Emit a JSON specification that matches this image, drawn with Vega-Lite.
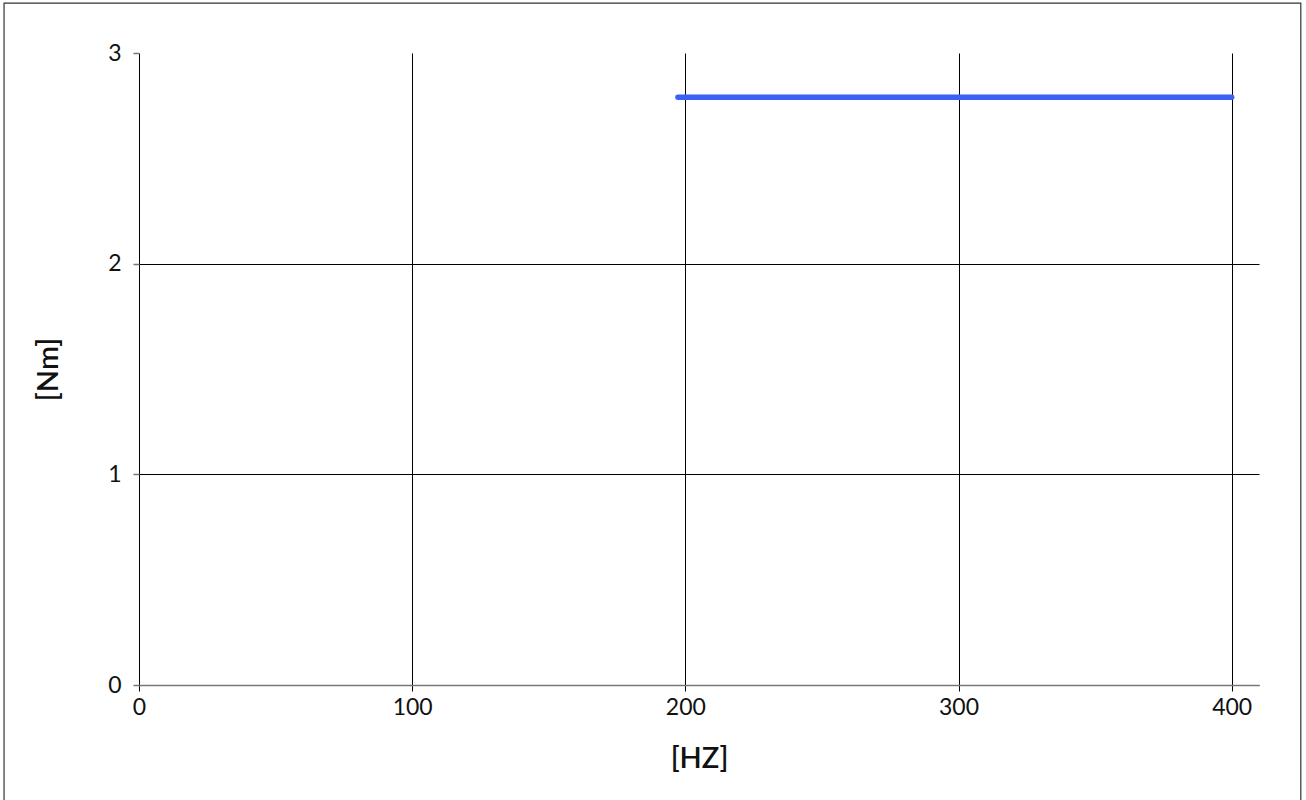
{
  "$schema": "https://vega.github.io/schema/vega-lite/v6.json",
  "autosize": {"type": "none"},
  "width": 1120,
  "height": 632,
  "padding": {"left": 139, "top": 53, "right": 47, "bottom": 115},
  "background": "white",
  "config": {
    "view": {"stroke": null},
    "font": "Lato",
    "axis": {"labelFont": "Lato", "titleFont": "Lato", "labelColor": "#111", "titleColor": "#111"}
  },
  "data": {"values": [
    {"hz": 197.3, "nm": 2.79},
    {"hz": 400, "nm": 2.79}
  ]},
  "layer": [
    {
      "mark": {"type": "rect", "fill": null, "stroke": "#333", "strokeWidth": 1.2, "clip": false},
      "data": {"values": [{"k": 1}]},
      "encoding": {
        "x": {"datum": -49.4, "type": "quantitative", "scale": {"domain": [0, 410]}},
        "x2": {"datum": 425.3},
        "y": {"datum": 3.237, "type": "quantitative", "scale": {"domain": [0, 3]}},
        "y2": {"datum": -0.6}
      }
    },
    {
      "mark": {"type": "line", "color": "#3a62f2", "strokeWidth": 5.5, "strokeCap": "round"},
      "encoding": {
        "x": {
          "field": "hz", "type": "quantitative",
          "scale": {"domain": [0, 410], "nice": false, "zero": false},
          "axis": {
            "title": "[HZ]", "values": [0, 100, 200, 300, 400], "format": "d",
            "grid": true, "gridColor": "#000", "gridWidth": 1, "gridOpacity": 1,
            "domain": true, "domainColor": "#777", "domainWidth": 1.5,
            "ticks": true, "tickColor": "#000", "tickSize": 6, "tickWidth": 1,
            "labelFontSize": 23, "labelPadding": 5, "labelFlush": false,
            "titleFontSize": 29, "titleFontWeight": 600, "titlePadding": 25
          }
        },
        "y": {
          "field": "nm", "type": "quantitative",
          "scale": {"domain": [0, 3], "nice": false},
          "axis": {
            "title": "[Nm]", "values": [0, 1, 2, 3], "format": "d",
            "grid": true, "gridColor": "#000", "gridWidth": 1,
            "gridOpacity": {"condition": {"test": "datum.value == 3", "value": 0}, "value": 1},
            "domain": false,
            "ticks": true, "tickColor": "#777", "tickSize": 6, "tickWidth": 1.5,
            "labelFontSize": 23, "labelPadding": 12,
            "titleFontSize": 29, "titleFontWeight": 600, "titlePadding": 44
          }
        }
      }
    }
  ]
}
